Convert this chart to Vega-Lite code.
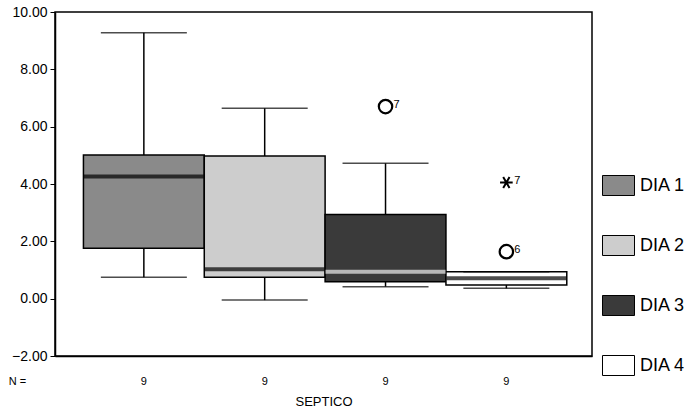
{
  "$schema": "https://vega.github.io/schema/vega-lite/v6.json",
  "width": 537,
  "height": 344,
  "autosize": {"type": "none"},
  "padding": {"left": 55, "top": 12, "right": 100, "bottom": 54},
  "background": "white",
  "config": {
    "font": "Liberation Sans",
    "view": {"stroke": "black", "strokeWidth": 1.5},
    "axis": {"domainColor": "black", "tickColor": "black", "labelColor": "black", "titleColor": "black", "grid": false}
  },
  "datasets": {
    "boxes": [
      {"dia": "DIA 1", "min": 0.75, "q1": 1.76, "median": 4.26, "q3": 5.01, "max": 9.28},
      {"dia": "DIA 2", "min": -0.05, "q1": 0.75, "median": 1.03, "q3": 4.98, "max": 6.64},
      {"dia": "DIA 3", "min": 0.42, "q1": 0.59, "median": 0.94, "q3": 2.94, "max": 4.72},
      {"dia": "DIA 4", "min": 0.36, "q1": 0.48, "median": 0.71, "q3": 0.94, "max": 0.94}
    ],
    "outliers": [
      {"dia": "DIA 3", "value": 6.7, "kind": "outlier", "label": "7"},
      {"dia": "DIA 4", "value": 4.05, "kind": "extreme", "label": "7"},
      {"dia": "DIA 4", "value": 1.64, "kind": "outlier", "label": "6"}
    ]
  },
  "encoding": {
    "x": {
      "field": "dia", "type": "nominal",
      "scale": {"domain": ["DIA 1", "DIA 2", "DIA 3", "DIA 4"], "paddingInner": 0, "paddingOuter": 0.222, "align": 0.53},
      "axis": {
        "labelExpr": "'9'", "labelAngle": 0, "ticks": false, "labelPadding": 19, "labelFontSize": 11,
        "domainWidth": 1.5,
        "title": "SEPTICO", "titleFontSize": 13, "titleFontWeight": "normal", "titlePadding": 9
      }
    }
  },
  "layer": [
    {
      "data": {"name": "boxes"},
      "mark": {"type": "rule", "color": "black", "strokeWidth": 1.5},
      "encoding": {
        "y": {
          "field": "min", "type": "quantitative",
          "scale": {"domain": [-2, 10], "nice": false, "zero": false},
          "axis": {
            "values": [-2, 0, 2, 4, 6, 8, 10], "format": ".2f", "labelFontSize": 14, "tickSize": 5,
            "domainWidth": 1.5, "labelPadding": 3,
            "title": "N =", "titleAngle": 0, "titleX": -38, "titleY": 369, "titleAlign": "center",
            "titleBaseline": "middle", "titleFontSize": 11, "titleFontWeight": "normal"
          }
        },
        "y2": {"field": "max"}
      }
    },
    {
      "data": {"name": "boxes"},
      "mark": {"type": "rect", "stroke": "black", "strokeWidth": 1.5},
      "encoding": {
        "y": {"field": "q1", "type": "quantitative"},
        "y2": {"field": "q3"},
        "fill": {
          "field": "dia", "type": "nominal",
          "scale": {"domain": ["DIA 1", "DIA 2", "DIA 3", "DIA 4"], "range": ["#8a8a8a", "#cdcdcd", "#3a3a3a", "#ffffff"]},
          "legend": {
            "title": null, "orient": "none", "legendX": 553, "legendY": 163,
            "symbolType": "M-1.6,-1H1.6V1H-1.6Z", "symbolSize": 400,
            "symbolStrokeColor": "black", "symbolStrokeWidth": 1, "symbolOpacity": 1,
            "labelFontSize": 18, "labelColor": "black", "labelOffset": 11, "rowPadding": 35
          }
        }
      }
    },
    {
      "data": {"name": "boxes"},
      "mark": {"type": "tick", "thickness": 4, "size": 120},
      "encoding": {
        "y": {"field": "median", "type": "quantitative"},
        "color": {"condition": {"test": "datum.dia === 'DIA 3'", "value": "#eeeeee"}, "value": "black"}
      }
    },
    {
      "data": {"name": "boxes"},
      "mark": {"type": "tick", "thickness": 1.5, "size": 86, "color": "black"},
      "encoding": {"y": {"field": "min", "type": "quantitative"}}
    },
    {
      "data": {"name": "boxes"},
      "mark": {"type": "tick", "thickness": 1.5, "size": 86, "color": "black"},
      "encoding": {"y": {"field": "max", "type": "quantitative"}}
    },
    {
      "data": {"name": "outliers"},
      "transform": [{"filter": "datum.kind === 'outlier'"}],
      "mark": {"type": "point", "shape": "circle", "filled": false, "stroke": "black", "strokeWidth": 2.2, "size": 180, "opacity": 1},
      "encoding": {"y": {"field": "value", "type": "quantitative"}}
    },
    {
      "data": {"name": "outliers"},
      "transform": [{"filter": "datum.kind === 'extreme'"}],
      "mark": {"type": "point", "shape": "M-1,0H1M-0.5,-0.866L0.5,0.866M-0.5,0.866L0.5,-0.866", "filled": false, "stroke": "black", "strokeWidth": 2, "size": 160, "opacity": 1},
      "encoding": {"y": {"field": "value", "type": "quantitative"}}
    },
    {
      "data": {"name": "outliers"},
      "mark": {"type": "text", "dx": 8, "dy": -2, "align": "left", "fontSize": 11, "color": "black"},
      "encoding": {
        "y": {"field": "value", "type": "quantitative"},
        "text": {"field": "label"}
      }
    }
  ]
}
